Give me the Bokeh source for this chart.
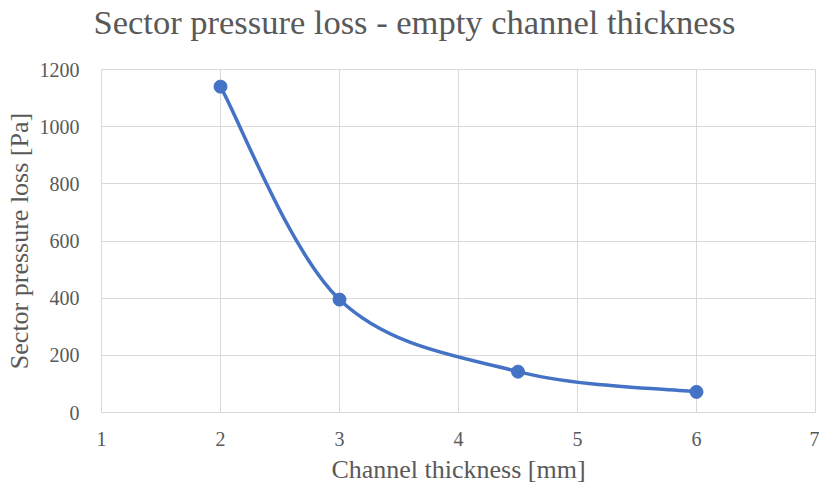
import numpy as np
from bokeh.plotting import figure
from bokeh.models import Range1d, FixedTicker, Title
from bokeh.embed import file_html
from bokeh.resources import INLINE

# ---- data ----
thickness_mm = [2, 3, 4.5, 6]
pressure_loss_pa = [1140, 395, 143, 72]
x_ticks = [1, 2, 3, 4, 5, 6, 7]
y_ticks = [0, 200, 400, 600, 800, 1000, 1200]
title_text = "Sector pressure loss - empty channel thickness"

TEXT = "#595959"
GRID = "#d9d9d9"
BLUE = "#4472C4"
SERIF = "Liberation Serif"

p = figure(
    frame_width=714, frame_height=343,
    min_border_left=101, min_border_right=4, min_border_top=68, min_border_bottom=64,
    x_range=Range1d(1, 7), y_range=Range1d(0, 1200),
    output_backend="svg", toolbar_location=None,
)

# spacer between frame and title (closest to frame), then the title above it
p.add_layout(Title(text=" ", text_font_size="1px", standoff=26), "above")
p.add_layout(Title(text=title_text, text_font=SERIF, text_font_size="34.5px",
                   text_font_style="normal", text_color=TEXT,
                   align="left", offset=-8, standoff=0), "above")

p.outline_line_color = GRID
p.background_fill_color = "white"
p.border_fill_color = "white"

for ax in (p.xaxis[0], p.yaxis[0]):
    ax.major_tick_line_color = None
    ax.minor_tick_line_color = None
    ax.axis_line_color = GRID
    ax.major_label_text_font = SERIF
    ax.major_label_text_font_size = "20px"
    ax.major_label_text_color = TEXT
    ax.axis_label_text_font = SERIF
    ax.axis_label_text_font_size = "26px"
    ax.axis_label_text_font_style = "normal"
    ax.axis_label_text_color = TEXT

p.xaxis.ticker = FixedTicker(ticks=x_ticks)
p.yaxis.ticker = FixedTicker(ticks=y_ticks)
p.xaxis.axis_label = "Channel thickness [mm]"
p.yaxis.axis_label = "Sector pressure loss [Pa]"
p.xaxis.major_label_standoff = 13
p.yaxis.major_label_standoff = 16
p.xaxis.axis_label_standoff = 6
p.yaxis.axis_label_standoff = 3

p.xgrid.ticker = FixedTicker(ticks=x_ticks)
p.ygrid.ticker = FixedTicker(ticks=y_ticks)
p.grid.grid_line_color = GRID
p.grid.grid_line_width = 1

# smoothed line (Catmull-Rom -> cubic Bezier, as in spreadsheet smoothing)
xs = np.array(thickness_mm, dtype=float)
ys = np.array(pressure_loss_pa, dtype=float)
xp = np.concatenate([[xs[0]], xs, [xs[-1]]])
yp = np.concatenate([[ys[0]], ys, [ys[-1]]])
n = len(xs)
x0 = xp[1:n]; y0 = yp[1:n]
x1 = xp[2:n + 1]; y1 = yp[2:n + 1]
cx0 = x0 + (xp[2:n + 1] - xp[0:n - 1]) / 6.0
cy0 = y0 + (yp[2:n + 1] - yp[0:n - 1]) / 6.0
cx1 = x1 - (xp[3:n + 2] - xp[1:n]) / 6.0
cy1 = y1 - (yp[3:n + 2] - yp[1:n]) / 6.0
p.bezier(x0=x0, y0=y0, x1=x1, y1=y1, cx0=cx0, cy0=cy0, cx1=cx1, cy1=cy1,
         line_color=BLUE, line_width=3.5)
p.scatter(thickness_mm, pressure_loss_pa, size=13, fill_color=BLUE, line_color=BLUE)

open("out.html", "w").write(file_html(p, INLINE))
